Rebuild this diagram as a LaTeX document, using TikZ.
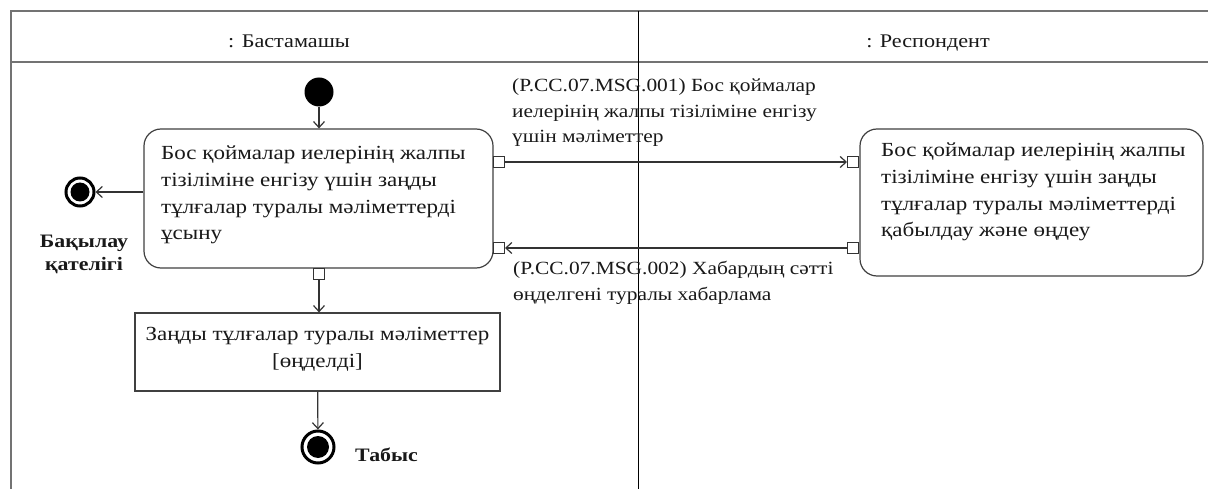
\documentclass[tikz,border=0pt]{standalone}
\usepackage{fontspec}
\setmainfont{Liberation Serif}[FakeStretch=1.15]
\usetikzlibrary{arrows.meta}
\tikzset{
  frame/.style={draw=black!55, line width=1.6pt},
  lane/.style={draw=black, line width=0.9pt},
  action/.style={draw=black!75, line width=1.2pt, rounded corners=17pt, fill=white},
  objbox/.style={draw=black!75, line width=1.2pt, fill=white},
  pinbox/.style={draw=black!80, line width=1pt, fill=white, minimum width=11pt, minimum height=11pt, inner sep=0pt},
  flow/.style={draw=black!80, line width=1.2pt, -{Straight Barb[length=6pt,width=11pt]}},
  acttext/.style={font=\fontsize{20}{26.7}\selectfont, align=left, inner sep=0pt, text=black!90},
  objtext/.style={font=\fontsize{20}{27.5}\selectfont, align=center, inner sep=0pt, text=black!90},
  msgtext/.style={font=\fontsize{18.6}{25.3}\selectfont, align=left, inner sep=0pt, text=black!90},
  headtext/.style={font=\fontsize{19.3}{22}\selectfont, inner sep=0pt, text=black!90},
  boldtext/.style={font=\fontsize{19}{23}\selectfont\bfseries, align=center, inner sep=0pt, text=black!90},
  startnode/.style={circle, fill=black, minimum size=29pt, inner sep=0pt},
  endnode/.style={circle, draw=black, line width=3pt, fill=white, inner sep=0pt,
     path picture={\fill[black] (path picture bounding box.center) circle (#1);}},
}
\begin{document}
\begin{tikzpicture}[x=1pt, y=-1pt]
\useasboundingbox (0,0) rectangle (1208,489);
% frame
\draw[frame] (11,489) -- (11,11) -- (1208,11);
\draw[frame] (11,62) -- (1208,62);
\draw[lane] (638,11) -- (638,489);
\node[headtext, anchor=base] (h1) at (289,48) {: Бастамашы};
\node[headtext, anchor=base] (h2) at (928,48) {: Респондент};
% left lane
\node[startnode] (init) at (319,92) {};
\node[action, minimum width=349pt, minimum height=139pt] (A1) at (318.5,198.5) {};
\node[acttext, anchor=base west] (A1t) at (161,240) {Бос қоймалар иелерінің жалпы\\тізіліміне енгізу үшін заңды\\тұлғалар туралы мәліметтерді\\ұсыну};
\node[pinbox] (p1) at (499,162) {};
\node[pinbox] (p2) at (499,248) {};
\node[pinbox] (p3) at (319,274) {};
\node[endnode=9.5pt, minimum size=28pt] (fe) at (80,192) {};
\node[boldtext, anchor=base] (fel) at (84,271) {Бақылау\\қателігі};
\node[objbox, minimum width=365pt, minimum height=78pt] (obj) at (317.5,352) {};
\node[objtext, anchor=base] (objt) at (317.5,367.5) {Заңды тұлғалар туралы мәліметтер\\{[}өңделді{]}};
\node[endnode=11pt, minimum size=32pt] (fs) at (318,447) {};
\node[boldtext, anchor=base west] (fsl) at (355,461) {Табыс};
% right lane
\node[action, minimum width=343pt, minimum height=147pt] (A2) at (1031.5,202.5) {};
\node[acttext, anchor=base west] (A2t) at (881,237) {Бос қоймалар иелерінің жалпы\\тізіліміне енгізу үшін заңды\\тұлғалар туралы мәліметтерді\\қабылдау және өңдеу};
\node[pinbox] (q1) at (853,162) {};
\node[pinbox] (q2) at (853,248) {};
% flows
\draw[flow] (init) -- (A1.north -| init);
\draw[flow] (A1.west |- fe) -- (fe);
\draw[flow] (p3) -- (obj.north -| p3);
\draw[flow] (obj) -- (fs);
\draw[flow] (p1) -- (q1);
\draw[flow] (q2) -- (p2);
% messages
\node[msgtext, anchor=base west] (m1) at (512,142.6) {(P.CC.07.MSG.001) Бос қоймалар\\иелерінің жалпы тізіліміне енгізу\\үшін мәліметтер};
\node[msgtext, anchor=base west] (m2) at (513,300) {(P.CC.07.MSG.002) Хабардың сәтті\\өңделгені туралы хабарлама};
\end{tikzpicture}
\end{document}
